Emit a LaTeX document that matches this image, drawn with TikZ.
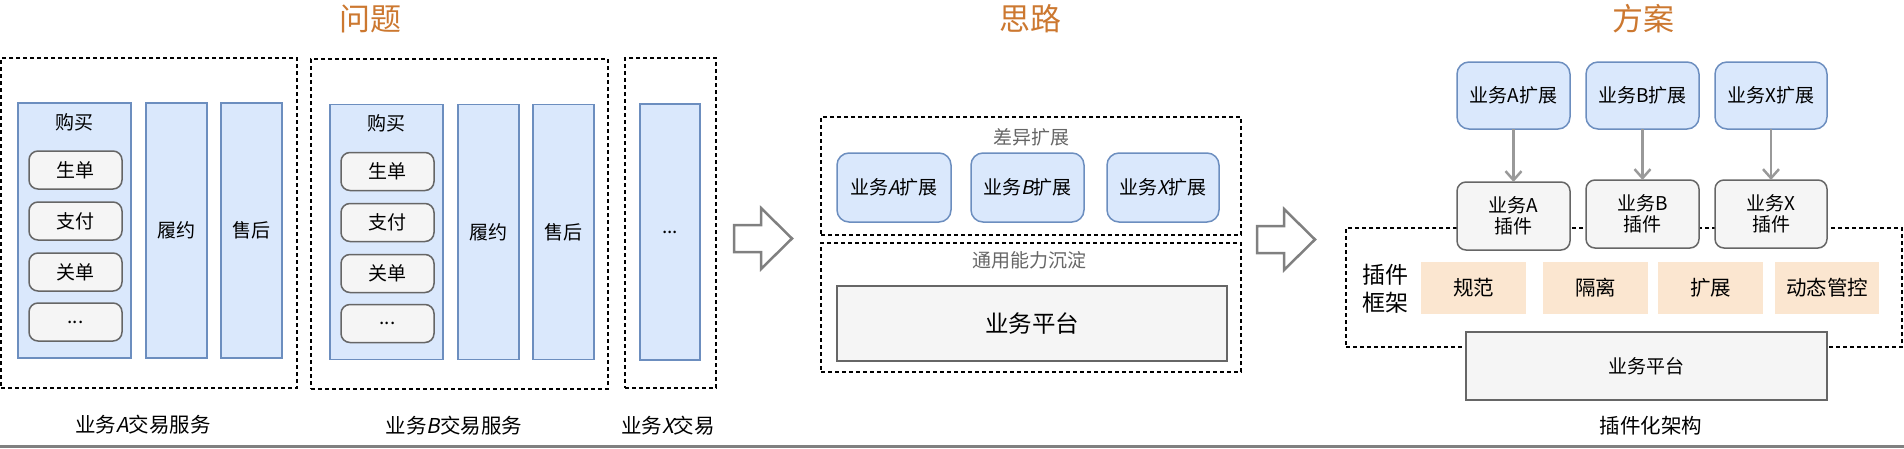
\documentclass[tikz,border=0pt]{standalone}
\usepackage{fontspec}
\setmainfont{Noto Sans CJK SC}
\newfontfamily\itf[FakeSlant=0.2]{Noto Sans CJK SC}
\usetikzlibrary{arrows.meta}
\definecolor{ttl}{RGB}{204,120,48}
\definecolor{bfill}{HTML}{DAE8FC}
\definecolor{bline}{HTML}{6C8EBF}
\definecolor{gfill}{HTML}{F5F5F5}
\definecolor{gline}{HTML}{666666}
\definecolor{ofill}{HTML}{FBE6D0}
\definecolor{agray}{HTML}{999999}
\definecolor{hgray}{HTML}{808080}
\tikzset{
  every node/.style={inner sep=0pt, outer sep=0pt},
  dbox/.style={draw=black, dash pattern=on 4pt off 3pt, line width=1.5pt},
  bbox/.style={draw=bline, fill=bfill, line width=1.5pt},
  rbbox/.style={bbox, rounded corners=12pt},
  gbox/.style={draw=gline, fill=gfill, line width=1.5pt},
  rgbox/.style={gbox, rounded corners=9pt},
  obox/.style={fill=ofill},
  ttlnode/.style={text=ttl, font=\fontsize{31}{34}\selectfont},
  fs/.style={font=\fontsize{19}{22}\selectfont},
  fl/.style={font=\fontsize{20.5}{24}\selectfont},
  fg/.style={font=\fontsize{19}{22}\selectfont, text=gline},
  harrow/.style={draw=hgray, fill=white, line width=2.5pt, line join=miter},
  parrow/.style={draw=agray, line width=2.5pt, -{Straight Barb[length=9pt,width=16pt,line width=2.5pt]}},
  wh/.style 2 args={minimum width=#1, minimum height=#2}
}
\begin{document}
\begin{tikzpicture}[x=1pt,y=-1pt]
\useasboundingbox (0,0) rectangle (1904,448);
% titles
\node[ttnode/.style={}, ttlnode] (t1) at (370,19) {问题};
\node[ttlnode] (t2) at (1030,19) {思路};
\node[ttlnode] (t3) at (1643,19) {方案};

% ---- Problem A ----
\node[dbox, wh={296}{330}] (da) at (149,223) {};
\node[bbox, wh={113}{255}] (ba) at (74.5,230.5) {};
\node[fs] (la) at (74.5,122) {购买};
\node[rgbox, wh={93}{38}, fs] (a1) at (75.5,170) {生单};
\node[rgbox, wh={93}{38}, fs] (a2) at (75.5,221) {支付};
\node[rgbox, wh={93}{38}, fs] (a3) at (75.5,272) {关单};
\node[rgbox, wh={93}{38}, fs] (a4) at (75.5,322) {...};
\node[bbox, wh={61}{255}, fs] (a5) at (176.5,230.5) {履约};
\node[bbox, wh={61}{255}, fs] (a6) at (251.5,230.5) {售后};
\node[fl] (ca) at (143,425) {业务{\itf A}交易服务};

% ---- Problem B ----
\node[dbox, wh={297}{330}] (db) at (459.5,224) {};
\node[bbox, wh={113}{255}] (bb) at (386.5,232) {};
\node[fs] (lb) at (386.5,123.5) {购买};
\node[rgbox, wh={93}{38}, fs] (b1) at (387.5,171.5) {生单};
\node[rgbox, wh={93}{38}, fs] (b2) at (387.5,222.5) {支付};
\node[rgbox, wh={93}{38}, fs] (b3) at (387.5,273.5) {关单};
\node[rgbox, wh={93}{38}, fs] (b4) at (387.5,323.5) {...};
\node[bbox, wh={61}{255}, fs] (b5) at (488.5,232) {履约};
\node[bbox, wh={61}{255}, fs] (b6) at (563.5,232) {售后};
\node[fl] (cb) at (454,426) {业务{\itf B}交易服务};

% ---- Problem X ----
\node[dbox, wh={91}{330}] (dx) at (670.5,223) {};
\node[bbox, wh={60}{256}, fs] (bx) at (670,232) {...};
\node[fl] (cx) at (668,426) {业务{\itf X}交易};

% block arrows
\draw[harrow] (734,225) -- (761,225) -- (761,208) -- (792,238.5) -- (761,269) -- (761,252) -- (734,252) -- cycle;
\draw[harrow] (1257,226) -- (1284,226) -- (1284,209) -- (1315,239.5) -- (1284,270) -- (1284,253) -- (1257,253) -- cycle;

% ---- Idea ----
\node[dbox, wh={420}{118}] (du) at (1031,176) {};
\node[fg] (lu) at (1031,137) {差异扩展};
\node[rbbox, wh={114}{69}, fs] (e1) at (894,187.5) {业务{\itf A}扩展};
\node[rbbox, wh={113}{69}, fs] (e2) at (1027.5,187.5) {业务{\itf B}扩展};
\node[rbbox, wh={112}{69}, fs] (e3) at (1163,187.5) {业务{\itf X}扩展};
\node[dbox, wh={420}{129}] (dl) at (1031,307.5) {};
\node[fg] (ll) at (1029,260) {通用能力沉淀};
\node[gbox, wh={390}{75}, font=\fontsize{23.5}{26}\selectfont] (pf) at (1032,323.5) {业务平台};

% ---- Solution ----
\node[dbox, wh={556}{119}] (df) at (1624,287.5) {};
\node[rbbox, wh={113}{67}, fs] (s1) at (1513.5,95.5) {业务A扩展};
\node[rbbox, wh={113}{67}, fs] (s2) at (1642.5,95.5) {业务B扩展};
\node[rbbox, wh={112}{67}, fs] (s3) at (1771,95.5) {业务X扩展};
\node[rgbox, wh={113}{68}, fs, align=center] (p1) at (1513.5,216) {业务A\\[-1pt]插件};
\node[rgbox, wh={113}{68}, fs, align=center] (p2) at (1642.5,214) {业务B\\[-1pt]插件};
\node[rgbox, wh={112}{68}, fs, align=center] (p3) at (1771,214) {业务X\\[-1pt]插件};
\draw[parrow] (s1) -- (p1);
\draw[parrow] (s2) -- (p2);
\draw[parrow] (s3) -- (p3);
\node[font=\fontsize{23}{28}\selectfont, align=center] (fw) at (1385,289) {插件\\框架};
\node[obox, wh={105}{52}, fl] (o1) at (1473.5,288) {规范};
\node[obox, wh={105}{52}, fl] (o2) at (1595.5,288) {隔离};
\node[obox, wh={105}{52}, fl] (o3) at (1710.5,288) {扩展};
\node[obox, wh={104}{52}, fl] (o4) at (1827,288) {动态管控};
\node[gbox, wh={361}{68}, fs] (sp) at (1646.5,366) {业务平台};
\node[fl] (cs) at (1651,426) {插件化架构};

% bottom rule
\coordinate (bl) at (0,446.5);
\coordinate (br) at (1904,446.5);
\draw[hgray, line width=3pt] (bl) -- (br);
\end{tikzpicture}
\end{document}
